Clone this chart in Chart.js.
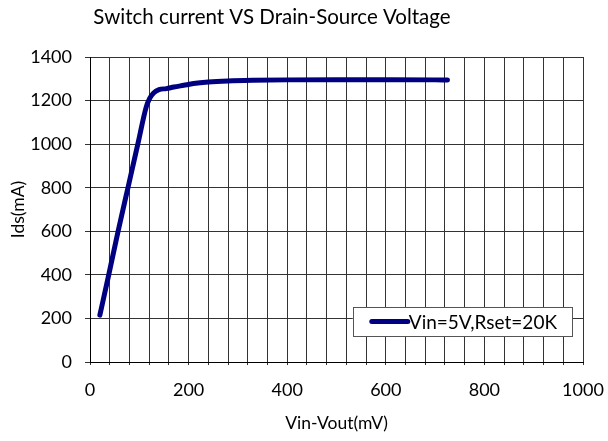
<!DOCTYPE html>
<html>
<head>
<meta charset="utf-8">
<script src="https://cdn.jsdelivr.net/npm/chart.js@4.4.0/dist/chart.umd.min.js"></script>
<style>
  html, body { margin: 0; padding: 0; background: #fff; }
  #wrap { width: 608px; height: 441px; position: relative; }
</style>
</head>
<body>
<div id="wrap"><canvas id="c"></canvas></div>
<script>
const chartTitle = "Switch current VS Drain-Source Voltage";
const xTitle = "Vin-Vout(mV)";
const yTitle = "Ids(mA)";
const seriesLabel = "Vin=5V,Rset=20K";
const vinVout = [20, 38, 57, 77, 97, 114, 121, 129, 140, 155, 170, 190, 210, 240, 280, 330, 400, 500, 600, 700, 725];
const ids     = [215, 400, 600, 800, 1000, 1170, 1210, 1235, 1250, 1255, 1262, 1270, 1278, 1285, 1290, 1293, 1295, 1296, 1296, 1295, 1294];
const xMin = 0, xMax = 1000, xGridStep = 40, xLabelStep = 200;
const yMin = 0, yMax = 1400, yStep = 200;

const FONT = "Lato, 'Open Sans', sans-serif";
const lineColor = "#000080";

const titleAndLegend = {
  id: 'titleAndLegend',
  afterDraw(chart) {
    const ctx = chart.ctx, a = chart.chartArea;
    ctx.save();
    ctx.font = "20.5px " + FONT;
    ctx.fillStyle = "#000";
    ctx.textAlign = "center";
    ctx.textBaseline = "middle";
    ctx.fillText(chart.options.plugins.title.text, 272, 17);
    const ds = chart.data.datasets[0];
    ctx.font = "19px " + FONT;
    const tw = ctx.measureText(ds.label).width;
    const lineLen = 36, padL = 19, padR = 15, gap = 1;
    const w = padL + lineLen + gap + tw + padR;
    const h = 29;
    const right = a.right - 11, bottom = a.bottom - 26;
    const left = right - w, top = bottom - h;
    ctx.fillStyle = "#fff";
    ctx.fillRect(left, top, w, h);
    ctx.strokeStyle = "#555";
    ctx.lineWidth = 1;
    ctx.strokeRect(Math.round(left) + 0.5, Math.round(top) + 0.5, Math.round(w), Math.round(h));
    const cy = top + h / 2;
    ctx.strokeStyle = ds.borderColor;
    ctx.lineWidth = 5;
    ctx.lineCap = "round";
    ctx.beginPath();
    ctx.moveTo(left + padL, cy);
    ctx.lineTo(left + padL + lineLen, cy);
    ctx.stroke();
    ctx.fillStyle = "#000";
    ctx.textBaseline = "middle";
    ctx.textAlign = "left";
    ctx.fillText(ds.label, left + padL + lineLen + gap, cy + 1);
    ctx.restore();
  }
};

new Chart(document.getElementById('c'), {
  type: 'line',
  data: {
    datasets: [{
      label: seriesLabel,
      data: vinVout.map((x, i) => ({ x: x, y: ids[i] })),
      borderColor: lineColor,
      backgroundColor: lineColor,
      borderWidth: 5,
      pointRadius: 0,
      cubicInterpolationMode: 'monotone',
      borderCapStyle: 'round',
      borderJoinStyle: 'round',
      fill: false
    }]
  },
  options: {
    responsive: true,
    maintainAspectRatio: false,
    animation: false,
    layout: { padding: { left: 6, right: 25, top: 57, bottom: 7 } },
    plugins: {
      legend: { display: false },
      tooltip: { enabled: false },
      title: { display: false, text: chartTitle }
    },
    scales: {
      x: {
        type: 'linear',
        min: xMin, max: xMax,
        afterFit(scale) { scale.height = 72; scale.paddingLeft = 0; scale.paddingRight = 0; },
        ticks: {
          stepSize: xGridStep,
          autoSkip: false,
          maxRotation: 0,
          color: '#000',
          font: { family: FONT, size: 18 },
          padding: 14,
          callback: (v) => (v % xLabelStep === 0 ? String(v) : '')
        },
        grid: { color: '#333', lineWidth: 1, tickLength: 3, drawTicks: true },
        border: { color: '#000', width: 1 },
        title: {
          display: true, text: xTitle, color: '#000',
          font: { family: FONT, size: 17.5 }, padding: { top: 12, bottom: 0 }
        }
      },
      y: {
        min: yMin, max: yMax,
        afterFit(scale) { scale.width = 84; scale.paddingTop = 0; scale.paddingBottom = 0; },
        ticks: {
          stepSize: yStep,
          color: '#000',
          font: { family: FONT, size: 18 },
          padding: 13,
          callback: (v) => String(v)
        },
        grid: { color: '#333', lineWidth: 1, tickLength: 5 },
        border: { color: '#000', width: 1 },
        title: {
          display: true, text: yTitle, color: '#000',
          font: { family: FONT, size: 17.5 }, padding: { top: 2, bottom: 0 }
        }
      }
    }
  },
  plugins: [titleAndLegend]
});
</script>
</body>
</html>
